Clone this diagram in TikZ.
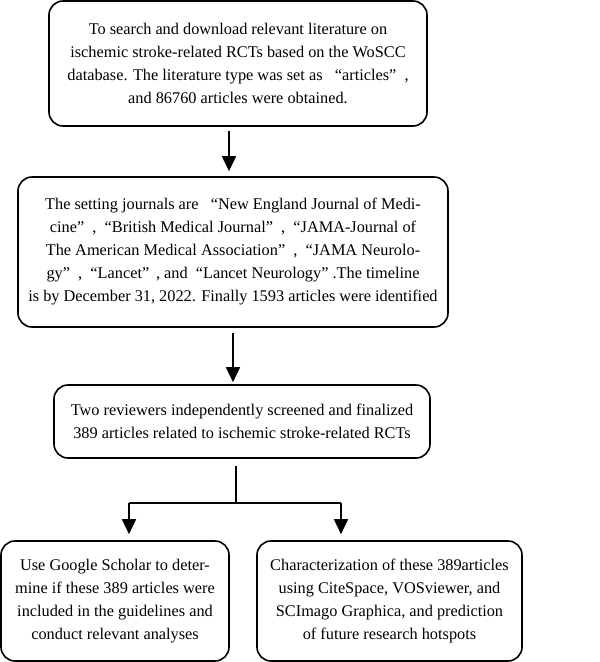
\documentclass[tikz,border=0pt]{standalone}
\usepackage{fontspec}
\setmainfont{Liberation Serif}
\usetikzlibrary{arrows.meta,calc}
\begin{document}
\begin{tikzpicture}[x=1pt,y=-1pt,
  box/.style={draw,line width=1.6pt,rounded corners=14pt,align=center,inner sep=0pt,
    font=\fontsize{16.3}{23}\selectfont},
  arr/.style={line width=1.6pt,-{Triangle[length=15pt,width=14pt]}},
  ln/.style={line width=1.6pt}]
\useasboundingbox (0,0) rectangle (600,662);
\node[box,minimum width=378,minimum height=125] (b1) at (238,63.5)
 {To search and download relevant literature on\\ischemic stroke-related RCTs based on the WoSCC\\database. The literature type was set as \ \ “articles” \ ,\\and 86760 articles were obtained.};
\node[box,minimum width=430,minimum height=150] (b2) at (233,252)
 {The setting journals are \ \ “New England Journal of Medi-\\cine” \ , \ “British Medical Journal” \ , \ “JAMA-Journal of\\The American Medical Association” \ , \ “JAMA Neurolo-\\gy” \ , \ “Lancet” \,, and \ “Lancet Neurology” .The timeline\\is by December 31, 2022. Finally 1593 articles were identified};
\node[box,minimum width=376,minimum height=73] (b3) at (242,421.5)
 {Two reviewers independently screened and finalized\\389 articles related to ischemic stroke-related RCTs};
\node[box,minimum width=228,minimum height=120] (b4) at (115,601)
 {Use Google Scholar to deter-\\mine if these 389 articles were\\included in the guidelines and\\conduct relevant analyses};
\node[box,minimum width=265,minimum height=120] (b5) at (389.5,601)
 {Characterization of these 389articles\\using CiteSpace, VOSviewer, and\\SCImago Graphica, and prediction\\of future research hotspots};
\coordinate (x1) at (229,0);
\coordinate (x2) at (233,0);
\coordinate (x3) at (236,0);
\coordinate (j) at (236,503);
\coordinate (jl) at (129,503);
\coordinate (jr) at (341,503);
\draw[arr,shorten <=4pt,shorten >=5pt] (b1.south -| x1) -- (b2.north -| x1);
\draw[arr,shorten <=5pt,shorten >=2pt] (b2.south -| x2) -- (b3.north -| x2);
\draw[ln,shorten <=7pt] (b3.south -| x3) -- (j);
\draw[ln] (jl) -- (jr);
\draw[arr,shorten >=6pt] (jl) -- (jl |- b4.north);
\draw[arr,shorten >=6pt] (jr) -- (jr |- b5.north);
\end{tikzpicture}
\end{document}
